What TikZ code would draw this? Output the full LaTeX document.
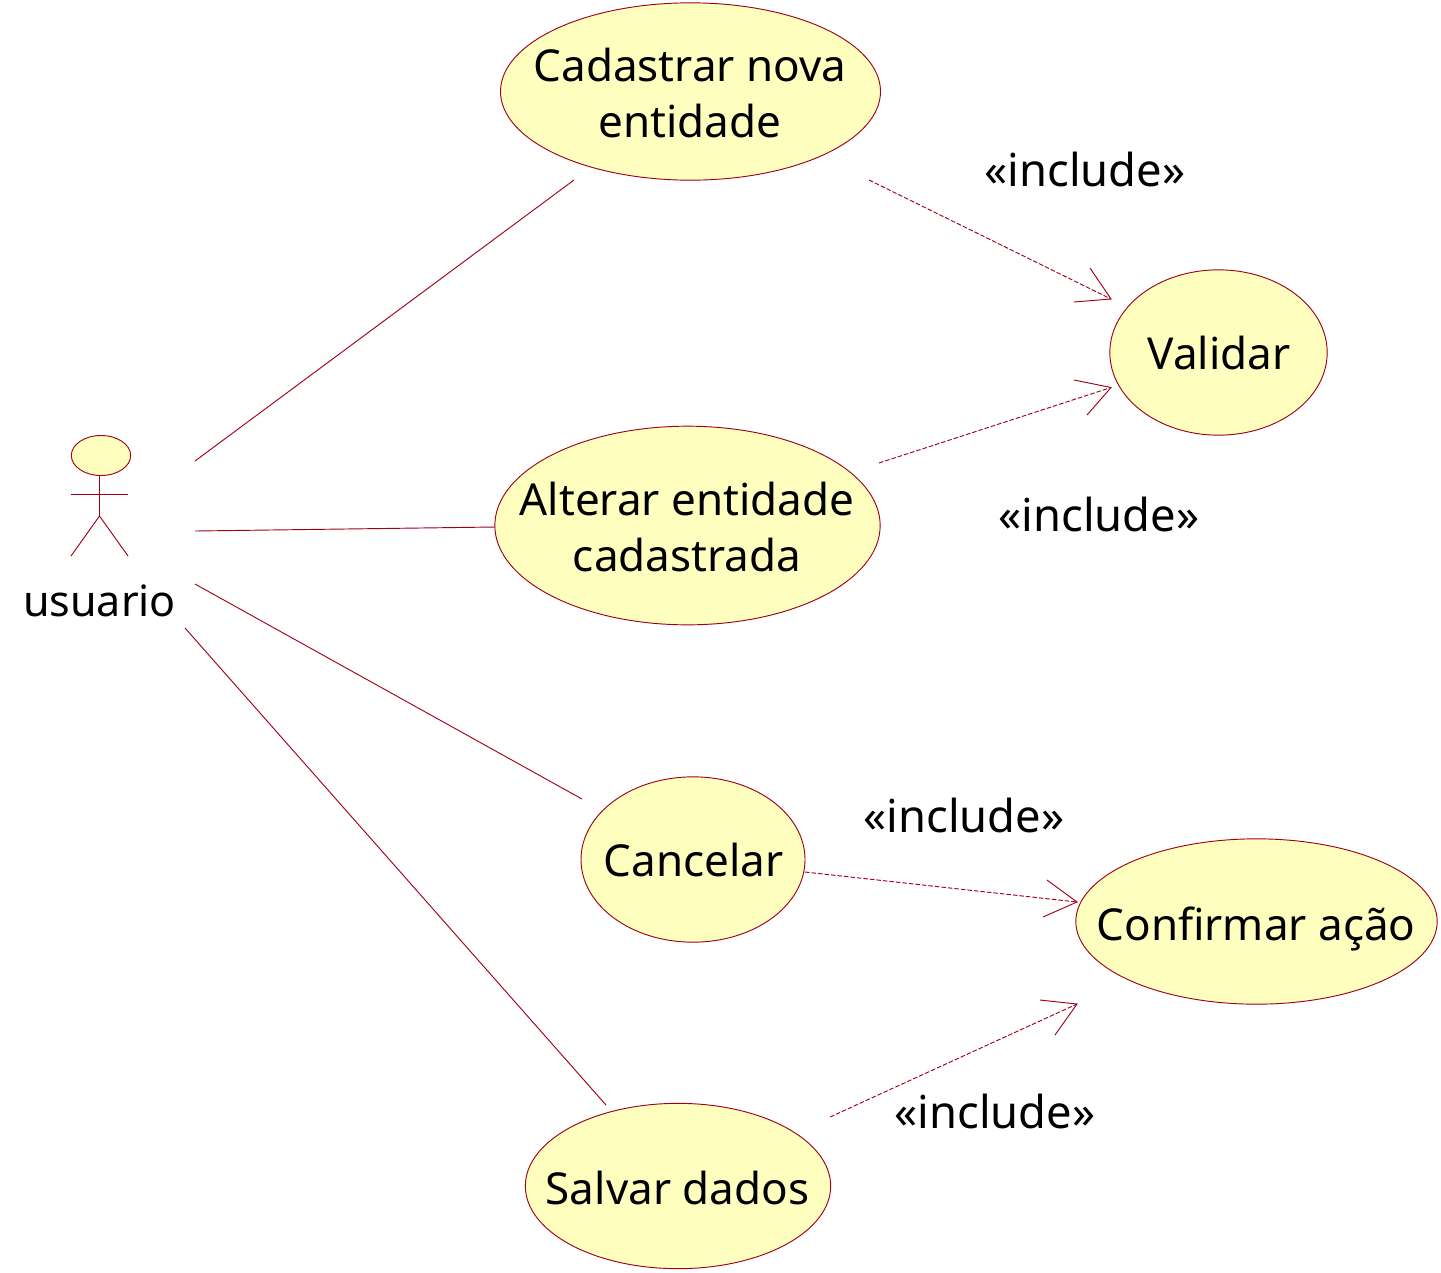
\documentclass[tikz,border=0pt]{standalone}
\usepackage{fontspec}
\setmainfont{Noto Sans}
\usetikzlibrary{shapes.geometric}
\definecolor{umlline}{RGB}{160,0,24}
\definecolor{umlfill}{RGB}{254,255,191}
\tikzset{
  usecase/.style={ellipse,draw=umlline,fill=umlfill,line width=0.7pt,inner sep=0pt,minimum width=#1},
  lbl/.style={font=\fontsize{33}{41.5}\selectfont,align=center,text=black,inner sep=0pt},
  inclbl/.style={font=\fontsize{34}{41.5}\selectfont,align=center,text=black,inner sep=0pt},
  assoc/.style={draw=umlline,line width=0.7pt},
  dep/.style={draw=umlline,line width=0.7pt,dash pattern=on 3.4pt off 1.5pt},
  barb/.style={draw=umlline,line width=0.7pt}
}
\begin{document}
\begin{tikzpicture}[x=0.75pt,y=-0.75pt]
\useasboundingbox (0,0) rectangle (1441,1272);
% use cases
\node[usecase=285pt,minimum height=133pt] (cad) at (690.5,91.5) {};
\node[usecase=163pt,minimum height=124pt] (val) at (1218.5,352.5) {};
\node[usecase=289pt,minimum height=149pt] (alt) at (687.5,525.5) {};
\node[usecase=168pt,minimum height=124pt] (can) at (693,859.5) {};
\node[usecase=271pt,minimum height=124pt] (con) at (1256.5,921.5) {};
\node[usecase=229pt,minimum height=124pt] (sal) at (678,1186) {};
\node[lbl] (tcad) at (690,93) {Cadastrar nova\\entidade};
\node[lbl] (tval) at (1219,353) {Validar};
\node[lbl] (talt) at (687,527) {Alterar entidade\\cadastrada};
\node[lbl] (tcan) at (693.5,860) {Cancelar};
\node[lbl] (tcon) at (1256,929) {Confirmar ação};
\node[lbl] (tsal) at (677.5,1188) {Salvar dados};
% actor
\node[usecase=44.5pt,minimum height=30pt] (head) at (101,455.5) {};
\coordinate (neck) at (99.5,476);
\coordinate (hip) at (99.5,516);
\coordinate (armL) at (71,494);
\coordinate (armR) at (128,494);
\coordinate (legL) at (71,556);
\coordinate (legR) at (128,556);
\draw[assoc] (neck) -- (hip);
\draw[assoc] (armL) -- (armR);
\draw[assoc] (legL) -- (hip) -- (legR);
\node[lbl,font=\fontsize{32.3}{40}\selectfont] (actor) at (99.5,601) {usuario};
% associations
\coordinate (a1) at (195,461);
\coordinate (a1e) at (574,180);
\coordinate (a2) at (195,531);
\coordinate (a2e) at (495,527);
\coordinate (a3) at (195,584);
\coordinate (a3e) at (582,799);
\coordinate (a4) at (185,628);
\coordinate (a4e) at (606,1105);
\draw[assoc] (a1) -- (a1e);
\draw[assoc] (a2) -- (a2e);
\draw[assoc] (a3) -- (a3e);
\draw[assoc] (a4) -- (a4e);
% includes
\coordinate (d1) at (869,180);
\coordinate (d1t) at (1111,299);
\coordinate (d1a) at (1090,268);
\coordinate (d1b) at (1074,302);
\draw[dep] (d1) -- (d1t);
\draw[barb] (d1a) -- (d1t) -- (d1b);
\coordinate (d2) at (879,463);
\coordinate (d2t) at (1111,387.5);
\coordinate (d2a) at (1074,380);
\coordinate (d2b) at (1087,415);
\draw[dep] (d2) -- (d2t);
\draw[barb] (d2a) -- (d2t) -- (d2b);
\coordinate (d3) at (805,872);
\coordinate (d3t) at (1077,902);
\coordinate (d3a) at (1047,880);
\coordinate (d3b) at (1043,917);
\draw[dep] (d3) -- (d3t);
\draw[barb] (d3a) -- (d3t) -- (d3b);
\coordinate (d4) at (830,1117);
\coordinate (d4t) at (1077,1004);
\coordinate (d4a) at (1040,1000);
\coordinate (d4b) at (1055,1035);
\draw[dep] (d4) -- (d4t);
\draw[barb] (d4a) -- (d4t) -- (d4b);
\node[inclbl] (i1) at (1085,169) {«include»};
\node[inclbl] (i2) at (1099,514) {«include»};
\node[inclbl] (i3) at (964,815) {«include»};
\node[inclbl] (i4) at (995,1111) {«include»};
\end{tikzpicture}
\end{document}
